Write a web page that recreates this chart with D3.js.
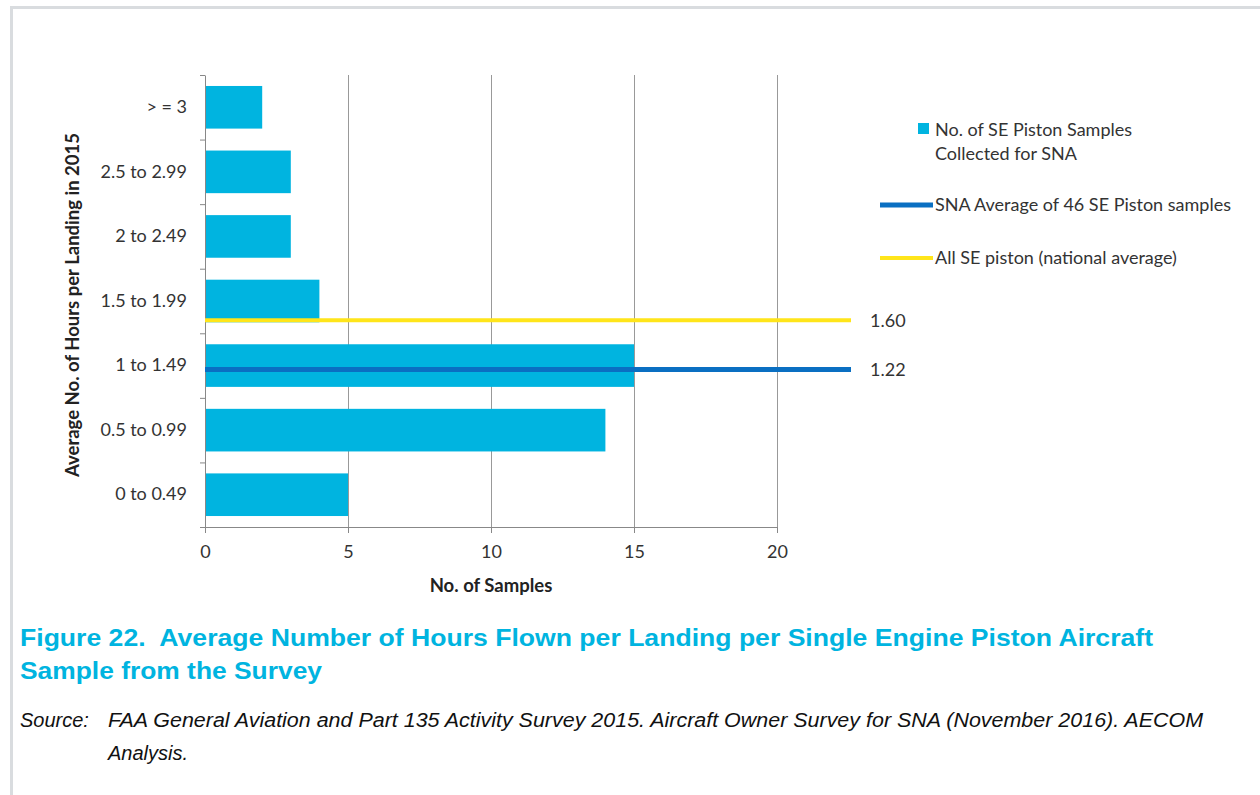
<!DOCTYPE html>
<html>
<head>
<meta charset="utf-8">
<script src="https://cdn.jsdelivr.net/npm/d3@7"></script>
<style>
  body { margin: 0; background: #fff; }
  svg { display: block; }
  .tick text { font-family: Lato, "Open Sans", sans-serif; font-size: 18px; fill: #333; }
</style>
</head>
<body>
<div id="canvas"></div>
<script>
// categories top to bottom
const categories = ["> = 3", "2.5 to 2.99", "2 to 2.49", "1.5 to 1.99", "1 to 1.49", "0.5 to 0.99", "0 to 0.49"];
const samples = [2, 3, 3, 4, 15, 14, 5];
const xTicks = [0, 5, 10, 15, 20];
const averageNames = ["SNA Average of 46 SE Piston samples", "All SE piston (national average)"];
const averageValues = [1.22, 1.60];
const averageColors = ["#0a6fc2", "#ffe51a"];
const barColor = "#00b4e0";

const width = 1260;
const height = 795;
const margin = { top: 75, left: 205, bottom: 268, right: 483 };
const iwidth = width - margin.left - margin.right;
const iheight = height - margin.top - margin.bottom;

const svg = d3.select("#canvas").append("svg")
    .attr("width", width)
    .attr("height", height);

// page frame
svg.append("rect")
    .attr("x", 11.5).attr("y", 7.5)
    .attr("width", 1300).attr("height", 900)
    .attr("fill", "none")
    .attr("stroke", "#d9dcdf")
    .attr("stroke-width", 3);

const g = svg.append("g").attr("transform", `translate(${margin.left},${margin.top})`);

const x = d3.scaleLinear().domain([0, 20]).range([0, iwidth]);
const y = d3.scaleBand().domain(categories).range([0, iheight]).paddingInner(0.34).paddingOuter(0.17);
// continuous scale behind the categories (0 .. 3.5 hours)
const yVal = d3.scaleLinear().domain([0, 3.5]).range([iheight, 0]);

// grid
g.append("g")
    .attr("class", "grid")
    .call(d3.axisBottom(x).tickValues(xTicks.slice(1)).tickSize(iheight).tickFormat(""))
    .call(a => a.select(".domain").remove())
    .selectAll("line").attr("stroke", "#999").attr("stroke-width", 1);

// bars
g.selectAll("rect.bar")
    .data(categories)
    .enter().append("rect")
    .attr("class", "bar")
    .attr("x", x(0))
    .attr("y", d => y(d))
    .attr("width", (d, i) => x(samples[i]) - x(0))
    .attr("height", y.bandwidth())
    .style("fill", barColor);

// x axis
g.append("g")
    .attr("transform", `translate(0,${iheight})`)
    .call(d3.axisBottom(x).tickValues(xTicks).tickSize(6).tickPadding(12).tickSizeOuter(0))
    .call(a => a.selectAll("line, .domain").attr("stroke", "#888"));

// y axis: boundary ticks + category labels
g.append("g")
    .call(d3.axisLeft(yVal).tickValues(d3.range(0, 3.51, 0.5)).tickSize(5).tickFormat("").tickSizeOuter(0))
    .call(a => a.selectAll("line, .domain").attr("stroke", "#888"));

g.append("g")
    .call(d3.axisLeft(y).tickSize(0).tickPadding(18))
    .call(a => a.select(".domain").remove());

// average lines
const lineEnd = iwidth + 74;
averageValues.forEach((v, i) => {
    g.append("line")
        .attr("x1", x(0)).attr("x2", lineEnd)
        .attr("y1", yVal(v)).attr("y2", yVal(v))
        .attr("stroke", averageColors[i])
        .attr("stroke-width", i === 0 ? 5 : 4);
    g.append("text")
        .attr("x", lineEnd + 19)
        .attr("y", yVal(v))
        .attr("dy", "0.35em")
        .style("font-family", "Lato, sans-serif")
        .style("font-size", "18px")
        .style("fill", "#333")
        .text(v.toFixed(2));
});

// axis titles
g.append("text")
    .attr("x", x(0) + (x(20) - x(0)) / 2)
    .attr("y", iheight + 65)
    .attr("text-anchor", "middle")
    .style("font-family", "Lato, sans-serif")
    .style("font-size", "18.5px")
    .style("font-weight", "bold")
    .style("fill", "#222")
    .text("No. of Samples");

svg.append("text")
    .attr("transform", `translate(79,${margin.top + iheight / 2 + 4}) rotate(-90)`)
    .attr("text-anchor", "middle")
    .style("font-family", "Lato, sans-serif")
    .style("font-size", "18.5px")
    .style("font-weight", "bold")
    .style("fill", "#222")
    .text("Average No. of Hours per Landing in 2015");

// legend
const legend = svg.append("g").attr("transform", "translate(935,0)");
legend.append("rect")
    .attr("x", -17).attr("y", 123).attr("width", 11).attr("height", 11)
    .style("fill", barColor);
legend.append("text")
    .attr("x", 0).attr("y", 136)
    .style("font-family", "Lato, sans-serif").style("font-size", "18px").style("fill", "#333")
    .call(t => {
        t.append("tspan").attr("x", 0).text("No. of SE Piston Samples");
        t.append("tspan").attr("x", 0).attr("dy", 24).text("Collected for SNA");
    });
[205, 258].forEach((ly, i) => {
    legend.append("line")
        .attr("x1", -55).attr("x2", -2)
        .attr("y1", ly).attr("y2", ly)
        .attr("stroke", averageColors[i])
        .attr("stroke-width", i === 0 ? 5 : 4);
    legend.append("text")
        .attr("x", 0).attr("y", ly)
        .attr("dy", "0.35em")
        .style("font-family", "Lato, sans-serif").style("font-size", "18px").style("fill", "#333")
        .text(averageNames[i]);
});

// caption
const cap = svg.append("g");
cap.append("text")
    .attr("x", 20).attr("y", 646)
    .attr("textLength", 1133).attr("lengthAdjust", "spacingAndGlyphs")
    .style("white-space", "pre")
    .style("font-family", "'Liberation Sans', Arial, sans-serif")
    .style("font-size", "24.5px").style("font-weight", "bold").style("fill", "#00b4e0")
    .text("Figure 22.  Average Number of Hours Flown per Landing per Single Engine Piston Aircraft");
cap.append("text")
    .attr("x", 20).attr("y", 679)
    .attr("textLength", 302).attr("lengthAdjust", "spacingAndGlyphs")
    .style("font-family", "'Liberation Sans', Arial, sans-serif")
    .style("font-size", "24.5px").style("font-weight", "bold").style("fill", "#00b4e0")
    .text("Sample from the Survey");

const srcStyle = t => t
    .style("font-family", "'Liberation Sans', Arial, sans-serif")
    .style("font-size", "20px").style("font-style", "italic").style("fill", "#111");
cap.append("text").attr("x", 20).attr("y", 727).call(srcStyle).text("Source:");
cap.append("text").attr("x", 108).attr("y", 727)
    .attr("textLength", 1095).attr("lengthAdjust", "spacingAndGlyphs")
    .call(srcStyle)
    .text("FAA General Aviation and Part 135 Activity Survey 2015. Aircraft Owner Survey for SNA (November 2016). AECOM");
cap.append("text").attr("x", 108).attr("y", 760).call(srcStyle).text("Analysis.");
</script>
</body>
</html>
